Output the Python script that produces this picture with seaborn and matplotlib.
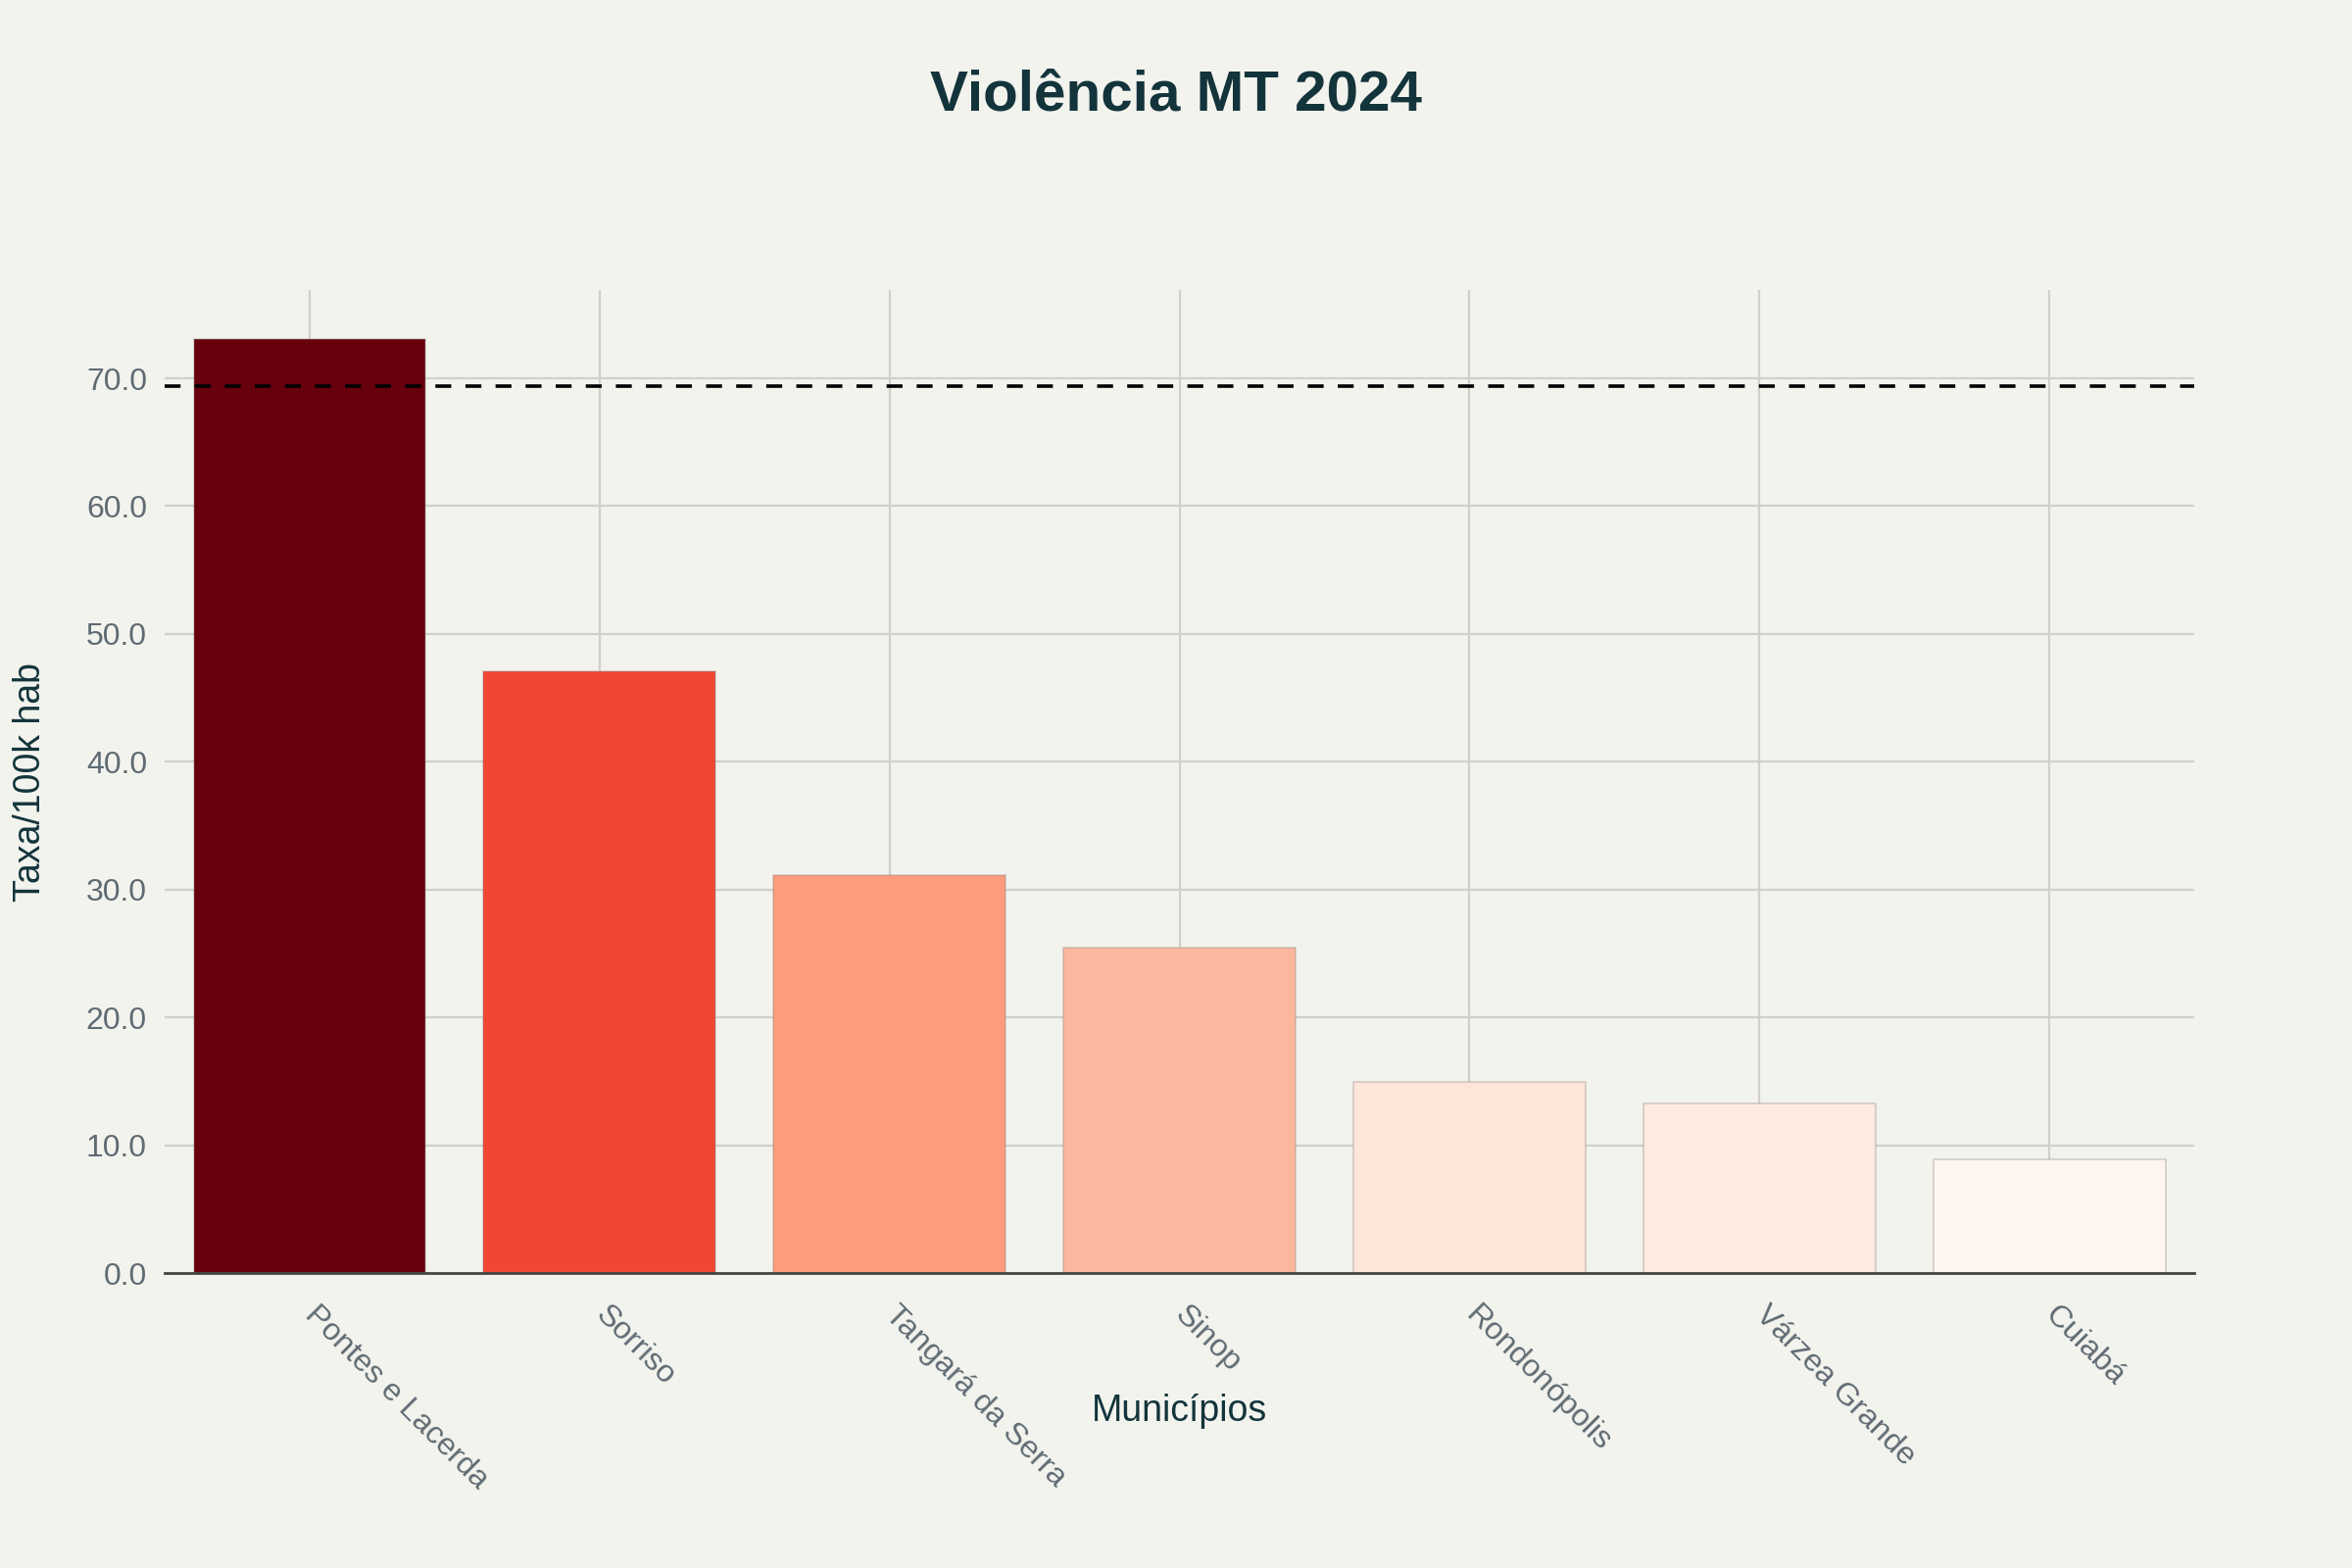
import numpy as np
import pandas as pd
import matplotlib
matplotlib.use("Agg")
import matplotlib.pyplot as plt
import matplotlib.colors as mcolors
import seaborn as sns

# Dados
municipios = ["Pontes e Lacerda", "Sorriso", "Tangará da Serra", "Sinop",
              "Rondonópolis", "Várzea Grande", "Cuiabá"]
taxas = [73.1, 47.1, 31.1, 25.5, 15.0, 13.3, 8.9]
media_ref = 69.4

titulo = "Violência MT 2024"
rotulo_x = "Municípios"
rotulo_y = "Taxa/100k hab"

df = pd.DataFrame({"Municipio": municipios, "Taxa": taxas})

# Cores
fundo = "#F3F3EE"
grade = "#D0CFCA"
texto_escuro = "#13343B"
texto_ticks = "#5F6B73"

sns.set_style("white")
plt.rcParams["font.family"] = ["Liberation Sans", "DejaVu Sans"]

norm = mcolors.Normalize(vmin=min(taxas), vmax=max(taxas))
cmap = plt.get_cmap("Reds")
paleta = [cmap(norm(v)) for v in taxas]

fig = plt.figure(figsize=(12, 8), dpi=200, facecolor=fundo)
ax = fig.add_axes([0.07, 0.188, 0.863, 0.627])
ax.set_facecolor(fundo)

sns.barplot(data=df, x="Municipio", y="Taxa", hue="Municipio", palette=paleta,
            order=municipios, hue_order=municipios, legend=False, width=0.8,
            saturation=1, edgecolor=(0.55, 0.5, 0.48, 0.35), linewidth=0.6,
            ax=ax, zorder=3)

ax.axhline(media_ref, color="black", linestyle=(0, (4.5, 4)), linewidth=1.3, zorder=4)

ax.set_ylim(0, 76.9)
ax.set_xlim(-0.5, len(municipios) - 0.5)
ax.set_yticks(np.arange(0, 71, 10))
ax.yaxis.set_major_formatter(matplotlib.ticker.FormatStrFormatter("%.1f"))

ax.grid(True, color=grade, linewidth=0.8, zorder=0)
ax.set_axisbelow(True)
for s in ["top", "right", "left"]:
    ax.spines[s].set_visible(False)
ax.spines["bottom"].set_color("#444444")
ax.spines["bottom"].set_linewidth(1.0)
ax.spines["bottom"].set_zorder(5)

ax.tick_params(axis="both", colors=grade, length=3.5, width=0.8,
               labelcolor=texto_ticks, labelsize=11.5, pad=3)
plt.setp(ax.get_xticklabels(), rotation=-45, ha="left", va="center",
         rotation_mode="anchor")
for lbl in ax.get_xticklabels():
    lbl.set_y(-0.02)

ax.set_xlabel(rotulo_x, fontsize=13.5, color=texto_escuro, va="center")
ax.xaxis.set_label_coords(0.5, -0.14)
ax.set_ylabel(rotulo_y, fontsize=13.5, color=texto_escuro, va="center")
ax.yaxis.set_label_coords(-0.066, 0.5)

fig.text(0.5, 0.939, titulo, ha="center", va="center", fontsize=21,
         fontweight="bold", color=texto_escuro)

fig.savefig("out.png", dpi=200, facecolor=fundo)
